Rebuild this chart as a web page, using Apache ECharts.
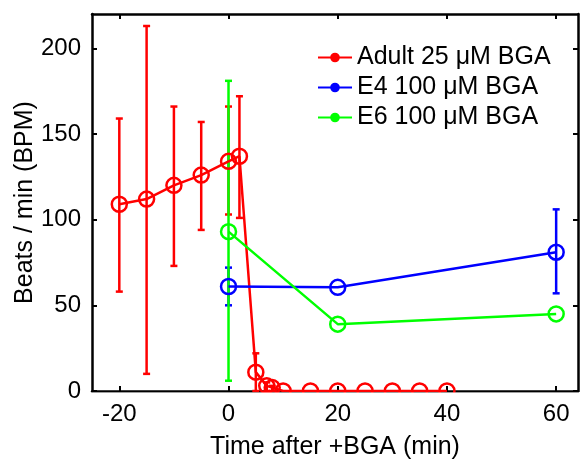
<!DOCTYPE html>
<html>
<head>
<meta charset="utf-8">
<script src="https://cdn.jsdelivr.net/npm/echarts@6/dist/echarts.min.js"></script>
<style>
  html, body { margin: 0; padding: 0; background: #fff; }
  #chart { width: 583px; height: 462px; }
</style>
</head>
<body>
<div id="chart"></div>
<script>
// 数据
const adultX    = [-20, -15, -10, -5, 0, 2, 5, 7, 8, 10, 15, 20, 25, 30, 35, 40];
const adultY    = [109, 112, 120, 126, 134, 137, 11, 3, 2, 0, 0, 0, 0, 0, 0, 0];
const adultLow  = [58, 10, 73, 94, 103, 101, 0, 0, 0, 0, 0, 0, 0, 0, 0, 0];
const adultHigh = [159, 213, 166, 157, 166, 172, 22, 5, 3, 0, 0, 0, 0, 0, 0, 0];

const e4X    = [0, 20, 60];
const e4Y    = [61, 60.5, 81];
const e4Low  = [50, 60.5, 57];
const e4High = [72, 60.5, 106];

const e6X    = [0, 20, 60];
const e6Y    = [93, 39, 45];
const e6Low  = [6, 39, 45];
const e6High = [181, 39, 45];

const xTicks = [-20, 0, 20, 40, 60];
const yTicks = [0, 50, 100, 150, 200];

const RED = '#ff0000', BLUE = '#0000ff', GREEN = '#00ff00';
const FONT = 'Liberation Sans';

var myChart = echarts.init(document.getElementById('chart'));

function pairs(xs, ys) {
  return xs.map(function (x, i) { return [x, ys[i]]; });
}

// 误差棒
function errSeries(xs, lows, highs, color) {
  return {
    type: 'custom',
    silent: true,
    data: xs.map(function (x, i) { return [x, lows[i], highs[i]]; }),
    renderItem: function (params, api) {
      var x = api.value(0), lo = api.value(1), hi = api.value(2);
      if (hi - lo < 0.5) return null;
      var p1 = api.coord([x, lo]);
      var p2 = api.coord([x, hi]);
      var w = 3.5;
      var st = { stroke: color, lineWidth: 2.5 };
      return {
        type: 'group',
        children: [
          { type: 'line', shape: { x1: p1[0], y1: p1[1], x2: p2[0], y2: p2[1] }, style: st },
          { type: 'line', shape: { x1: p1[0] - w, y1: p1[1], x2: p1[0] + w, y2: p1[1] }, style: st },
          { type: 'line', shape: { x1: p2[0] - w, y1: p2[1], x2: p2[0] + w, y2: p2[1] }, style: st }
        ]
      };
    },
    z: 2
  };
}

function lineSeries(name, xs, ys, color) {
  return {
    name: name,
    type: 'line',
    data: pairs(xs, ys),
    symbol: 'circle',
    symbolSize: 15,
    lineStyle: { color: color, width: 2.5 },
    itemStyle: { color: 'rgba(0,0,0,0)', borderColor: color, borderWidth: 2.5 },
    emphasis: { disabled: true },
    z: 3
  };
}

var axisLineStyle = { show: true, onZero: false, lineStyle: { color: '#000', width: 2.5 } };
var tickStyle = { show: true, inside: true, length: 5, lineStyle: { color: '#000', width: 2 } };
var labelFont = { fontFamily: FONT, fontSize: 24, color: '#000' };
var titleFont = { fontFamily: FONT, fontSize: 25, color: '#000' };

var option = {
  animation: false,
  backgroundColor: '#fff',
  grid: { left: 92, right: 5, top: 14, bottom: 71, outerBoundsMode: 'none' },
  legend: {
    orient: 'vertical',
    left: 317,
    top: 45,
    padding: 0,
    itemWidth: 34,
    itemHeight: 12,
    itemGap: 5,
    textStyle: { fontFamily: FONT, fontSize: 25, lineHeight: 25, color: '#000' },
    data: [
      { name: 'Adult 25 μM BGA', itemStyle: { color: RED, borderWidth: 0 } },
      { name: 'E4 100 μM BGA', itemStyle: { color: BLUE, borderWidth: 0 } },
      { name: 'E6 100 μM BGA', itemStyle: { color: GREEN, borderWidth: 0 } }
    ]
  },
  xAxis: [{
    type: 'value',
    min: -25,
    max: 64,
    name: 'Time after +BGA (min)',
    nameLocation: 'middle',
    nameGap: 44,
    nameMoveOverlap: false,
    nameTextStyle: titleFont,
    axisLine: axisLineStyle,
    axisTick: Object.assign({ customValues: xTicks }, tickStyle),
    axisLabel: Object.assign({ customValues: xTicks, margin: 11 }, labelFont),
    splitLine: { show: false }
  }, {
    type: 'value',
    position: 'top',
    min: -25,
    max: 64,
    axisLine: axisLineStyle,
    axisTick: Object.assign({ customValues: xTicks }, tickStyle),
    axisLabel: { show: false },
    splitLine: { show: false }
  }],
  yAxis: [{
    type: 'value',
    min: 0,
    max: 220,
    name: 'Beats / min (BPM)',
    nameLocation: 'middle',
    nameGap: 54,
    nameMoveOverlap: false,
    nameTextStyle: titleFont,
    axisLine: axisLineStyle,
    axisTick: Object.assign({ customValues: yTicks }, tickStyle),
    axisLabel: Object.assign({ customValues: yTicks, margin: 11 }, labelFont),
    splitLine: { show: false }
  }, {
    type: 'value',
    position: 'right',
    min: 0,
    max: 220,
    axisLine: axisLineStyle,
    axisTick: Object.assign({ customValues: yTicks }, tickStyle),
    axisLabel: { show: false },
    splitLine: { show: false }
  }],
  series: [
    errSeries(adultX, adultLow, adultHigh, RED),
    lineSeries('Adult 25 μM BGA', adultX, adultY, RED),
    errSeries(e4X, e4Low, e4High, BLUE),
    lineSeries('E4 100 μM BGA', e4X, e4Y, BLUE),
    errSeries(e6X, e6Low, e6High, GREEN),
    lineSeries('E6 100 μM BGA', e6X, e6Y, GREEN)
  ],
  // 遮住坐标轴下方的半个圆圈
  graphic: [{
    type: 'rect',
    shape: { x: 91, y: 392.5, width: 488, height: 10 },
    style: { fill: '#fff' },
    z: 100
  }]
};

myChart.setOption(option);
</script>
</body>
</html>
